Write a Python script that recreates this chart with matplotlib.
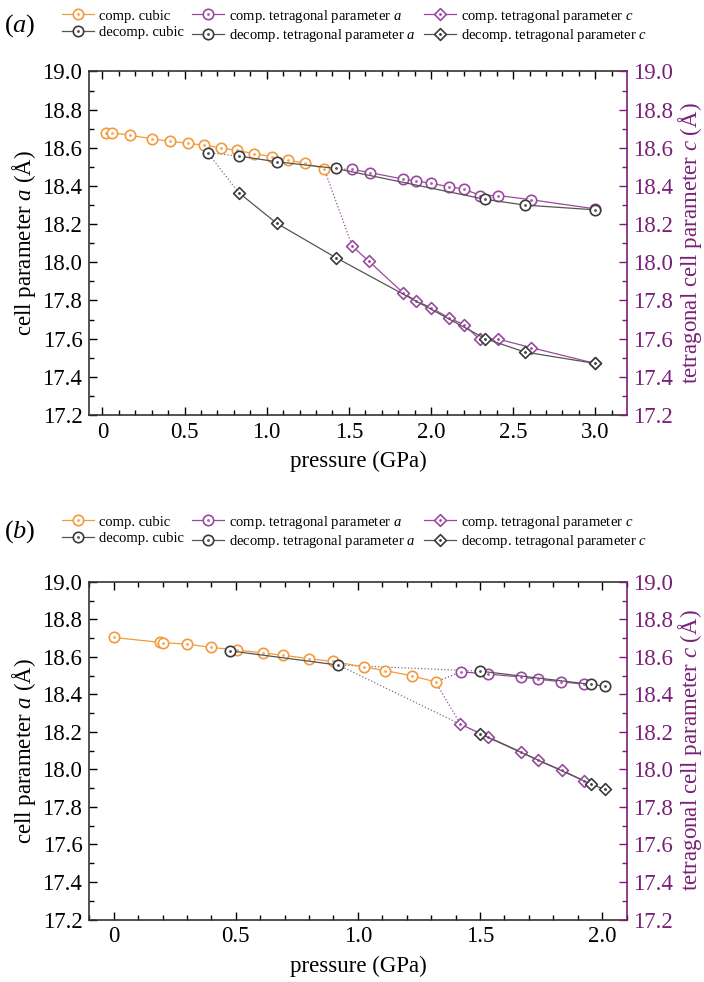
import numpy as np
import matplotlib
matplotlib.use("Agg")
import matplotlib.pyplot as plt
from matplotlib.path import Path
from matplotlib.ticker import MultipleLocator, FuncFormatter

plt.rcParams['font.family'] = ['Liberation Serif', 'DejaVu Serif']
plt.rcParams['mathtext.fontset'] = 'custom'
plt.rcParams['mathtext.rm'] = 'Liberation Serif'
plt.rcParams['mathtext.it'] = 'Liberation Serif:italic'

# ---------------- data: panel (a) ----------------
a_comp_cub_P = [0.02, 0.06, 0.17, 0.30, 0.41, 0.52, 0.62, 0.72, 0.82, 0.92, 1.03, 1.13, 1.23, 1.35]
a_comp_cub_a = [18.68, 18.68, 18.665, 18.648, 18.634, 18.624, 18.613, 18.60, 18.586, 18.57, 18.554, 18.535, 18.52, 18.49]
a_dec_cub_P = [0.64]
a_dec_cub_a = [18.575]
a_comp_ta_P = [1.52, 1.63, 1.83, 1.91, 2.00, 2.11, 2.20, 2.30, 2.41, 2.61, 3.00]
a_comp_ta_a = [18.487, 18.47, 18.436, 18.426, 18.414, 18.396, 18.384, 18.35, 18.35, 18.328, 18.28]
a_dec_ta_P = [0.83, 1.06, 1.42, 2.33, 2.57, 3.00]
a_dec_ta_a = [18.557, 18.527, 18.492, 18.33, 18.30, 18.275]
a_comp_tc_P = [1.52, 1.62, 1.83, 1.91, 2.00, 2.11, 2.20, 2.295, 2.41, 2.61, 3.00]
a_comp_tc_c = [18.085, 18.007, 17.84, 17.797, 17.763, 17.708, 17.674, 17.597, 17.597, 17.553, 17.47]
a_dec_tc_P = [0.83, 1.06, 1.42, 2.33, 2.57, 3.00]
a_dec_tc_c = [18.365, 18.205, 18.025, 17.60, 17.53, 17.47]

# ---------------- data: panel (b) ----------------
b_comp_cub_P = [0.00, 0.19, 0.20, 0.30, 0.40, 0.505, 0.61, 0.695, 0.80, 0.897, 1.025, 1.11, 1.22, 1.318]
b_comp_cub_a = [18.703, 18.677, 18.675, 18.668, 18.65, 18.636, 18.621, 18.608, 18.59, 18.575, 18.546, 18.527, 18.499, 18.466]
b_dec_cub_P = [0.475, 0.92]
b_dec_cub_a = [18.632, 18.556]
b_comp_ta_P = [1.423, 1.532, 1.668, 1.736, 1.831, 1.927]
b_comp_ta_a = [18.52, 18.508, 18.492, 18.481, 18.467, 18.454]
b_dec_ta_P = [1.498, 1.956, 2.011]
b_dec_ta_a = [18.524, 18.453, 18.444]
b_comp_tc_P = [1.42, 1.532, 1.668, 1.736, 1.834, 1.927]
b_comp_tc_c = [18.241, 18.173, 18.093, 18.049, 17.996, 17.939]
b_dec_tc_P = [1.498, 1.956, 2.011]
b_dec_tc_c = [18.191, 17.921, 17.893]

labels = ['comp. cubic', 'decomp. cubic',
          r'comp. tetragonal parameter $a$', r'decomp. tetragonal parameter $a$',
          r'comp. tetragonal parameter $c$', r'decomp. tetragonal parameter $c$']

ORANGE = '#f39a3c'
PURPLE = '#9a4a9e'
AXPURPLE = '#7a1f78'
DARK = '#3a3a3a'
LINEGRAY = '#555555'

dot = Path.circle((0, 0), 0.1)
circ_dot = Path.make_compound_path(Path.unit_circle(), dot)
diamond = Path([(0, 1), (1, 0), (0, -1), (-1, 0), (0, 1)],
               [Path.MOVETO, Path.LINETO, Path.LINETO, Path.LINETO, Path.CLOSEPOLY])
diam_dot = Path.make_compound_path(diamond, dot)

fig = plt.figure(figsize=(7.04, 9.82), dpi=100)

def panel(rect, xlim, data, tag, legy):
    ax = fig.add_axes(rect)
    (cc_P, cc_a, dc_P, dc_a, ca_P, ca_a, da_P, da_a, ct_P, ct_c, dt_P, dt_c) = data
    kw = dict(lw=0.9, mew=1.2, mfc='white')
    # transition (dotted) lines
    ax.plot([cc_P[-1], ca_P[0]], [cc_a[-1], ca_a[0]], ls=':', color=PURPLE, lw=0.9, zorder=1)
    ax.plot([cc_P[-1], ct_P[0]], [cc_a[-1], ct_c[0]], ls=':', color=PURPLE, lw=0.9, zorder=1)
    ax.plot([dc_P[-1], da_P[0]], [dc_a[-1], da_a[0]], ls=':', color='#777777', lw=0.9, zorder=1)
    ax.plot([dc_P[-1], dt_P[0]], [dc_a[-1], dt_c[0]], ls=':', color='#777777', lw=0.9, zorder=1)
    h = {}
    h[0] = ax.plot(cc_P, cc_a, color=ORANGE, mec=ORANGE, marker=circ_dot, ms=7.5, label=labels[0], zorder=2, **kw)[0]
    h[2] = ax.plot(ca_P, ca_a, color=PURPLE, mec=PURPLE, marker=circ_dot, ms=7.5, label=labels[2], zorder=2, **kw)[0]
    h[4] = ax.plot(ct_P, ct_c, color=PURPLE, mec=PURPLE, marker=diam_dot, ms=8.5, label=labels[4], zorder=2, **kw)[0]
    h[1] = ax.plot(dc_P, dc_a, color=LINEGRAY, mec=DARK, marker=circ_dot, ms=7.5, label=labels[1], zorder=3, **kw)[0]
    h[3] = ax.plot(da_P, da_a, color=LINEGRAY, mec=DARK, marker=circ_dot, ms=7.5, label=labels[3], zorder=3, **kw)[0]
    h[5] = ax.plot(dt_P, dt_c, color=LINEGRAY, mec=DARK, marker=diam_dot, ms=8.5, label=labels[5], zorder=3, **kw)[0]

    ax.set_xlim(*xlim)
    ax.set_ylim(17.2, 19.0)
    ax.xaxis.set_major_locator(MultipleLocator(0.5))
    ax.xaxis.set_minor_locator(MultipleLocator(0.1))
    ax.yaxis.set_major_locator(MultipleLocator(0.2))
    ax.yaxis.set_minor_locator(MultipleLocator(0.1))
    ax.xaxis.set_major_formatter(FuncFormatter(lambda v, p: '0' if abs(v) < 1e-9 else f'{v:.1f}'))
    ax.yaxis.set_major_formatter(FuncFormatter(lambda v, p: f'{v:.1f}'))
    ax.tick_params(which='both', direction='in', top=True, right=False, labelsize=16.5, pad=5, width=1)
    ax.tick_params(which='major', length=6)
    ax.tick_params(which='minor', length=3.5)
    for s in ['left', 'bottom', 'top']:
        ax.spines[s].set_color('#333333')
        ax.spines[s].set_linewidth(1.2)
    ax.spines['right'].set_visible(False)
    ax.set_xlabel('pressure (GPa)', fontsize=16.5, labelpad=6)
    ax.set_ylabel('cell parameter $a$ (Å)', fontsize=16.5)
    ax.yaxis.set_label_coords(-0.095, 0.5)

    ax2 = ax.twinx()
    ax2.set_ylim(17.2, 19.0)
    ax2.yaxis.set_major_locator(MultipleLocator(0.2))
    ax2.yaxis.set_minor_locator(MultipleLocator(0.1))
    ax2.yaxis.set_major_formatter(FuncFormatter(lambda v, p: f'{v:.1f}'))
    ax2.tick_params(which='both', direction='in', colors=AXPURPLE, labelsize=16.5, pad=5, width=1)
    ax2.tick_params(which='major', length=6)
    ax2.tick_params(which='minor', length=3.5)
    for s in ['left', 'bottom', 'top']:
        ax2.spines[s].set_visible(False)
    ax2.spines['right'].set_color(AXPURPLE)
    ax2.spines['right'].set_linewidth(1.2)
    ax2.set_ylabel('tetragonal cell parameter $c$ (Å)', fontsize=16.5, color=AXPURPLE)
    ax2.yaxis.set_label_coords(1.092, 0.5)

    handles = [h[i] for i in range(6)]
    fig.legend(handles=handles, labels=labels, ncol=3, loc='center left',
               bbox_to_anchor=(0.078, legy), frameon=False, fontsize=10.5,
               handlelength=2.2, handletextpad=0.3, columnspacing=0.6,
               labelspacing=0.2, borderpad=0.0, numpoints=1)
    fig.text(0.028, legy, tag, fontsize=19, ha='center', va='center')
    return ax

panel([0.1268, 0.5774, 0.7632, 0.3498], (-0.08, 3.19),
      (a_comp_cub_P, a_comp_cub_a, a_dec_cub_P, a_dec_cub_a,
       a_comp_ta_P, a_comp_ta_a, a_dec_ta_P, a_dec_ta_a,
       a_comp_tc_P, a_comp_tc_c, a_dec_tc_P, a_dec_tc_c), '($a$)', 1 - 26 / 982)
panel([0.1268, 0.0636, 0.7632, 0.3440], (-0.1, 2.1),
      (b_comp_cub_P, b_comp_cub_a, b_dec_cub_P, b_dec_cub_a,
       b_comp_ta_P, b_comp_ta_a, b_dec_ta_P, b_dec_ta_a,
       b_comp_tc_P, b_comp_tc_c, b_dec_tc_P, b_dec_tc_c), '($b$)', 1 - 532 / 982)

fig.savefig('out.png', dpi=100)
